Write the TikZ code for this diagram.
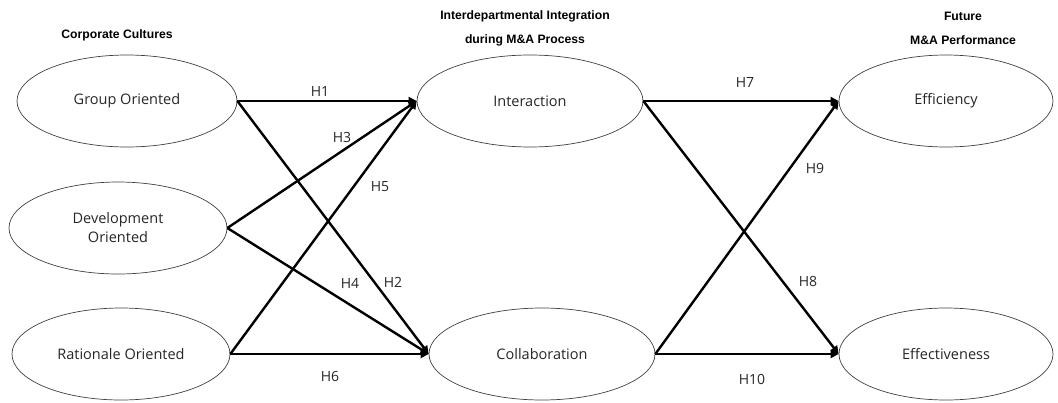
\documentclass[tikz,border=0pt]{standalone}
\usepackage{fontspec}
\setmainfont{Open Sans}
\newfontfamily\titlefont{Liberation Sans}
\usetikzlibrary{shapes.geometric,arrows.meta}
\tikzset{
  ell/.style={ellipse, draw=black!75, line width=0.7pt, inner sep=0pt,
    minimum width=220pt, minimum height=92pt, font=\fontsize{14.5}{19}\selectfont, align=center, text=black!85},
  arr/.style={line width=2.4pt, -{Triangle[length=8pt,width=8pt]}},
  lbl/.style={font=\fontsize{14}{15}\selectfont, text=black!85, inner sep=0pt},
  ttl/.style={font=\titlefont\bfseries\fontsize{12.2}{13}\selectfont, inner sep=0pt}
}
\begin{document}
\begin{tikzpicture}[x=1pt,y=-1pt]
\useasboundingbox (0,0) rectangle (1058,402);
\node[ell] (g) at (127,101) {Group Oriented};
\node[ell, minimum width=218pt] (d) at (118,228) {Development\\Oriented};
\node[ell, minimum width=218pt] (r) at (121,354) {Rationale Oriented};
\node[ell, minimum width=226pt] (i) at (530,101) {Interaction};
\node[ell, minimum width=226pt] (c) at (542,354) {Collaboration};
\node[ell, minimum width=214pt] (e1) at (946,101) {Efficiency};
\node[ell, minimum width=214pt] (e2) at (946,354) {Effectiveness};

\node[ttl] (t1) at (117,35) {Corporate Cultures};
\node[ttl] (t2) at (525,16) {Interdepartmental Integration};
\node[ttl] (t3) at (525,40) {during M\&A Process};
\node[ttl] (t4) at (963,16) {Future};
\node[ttl] (t5) at (963,40) {M\&A Performance};

\draw[arr] (g.east) -- (i.west);
\draw[arr] (g.east) -- (c.west);
\draw[arr] (d.east) -- (i.west);
\draw[arr] (d.east) -- (c.west);
\draw[arr] (r.east) -- (i.west);
\draw[arr] (r.east) -- (c.west);
\draw[arr] (i.east) -- (e1.west);
\draw[arr] (i.east) -- (e2.west);
\draw[arr] (c.east) -- (e1.west);
\draw[arr] (c.east) -- (e2.west);

\node[lbl] (h1) at (320,91) {H1};
\node[lbl] (h2) at (393,282) {H2};
\node[lbl] (h3) at (342,137) {H3};
\node[lbl] (h4) at (350,283) {H4};
\node[lbl] (h5) at (380,187) {H5};
\node[lbl] (h6) at (330,376) {H6};
\node[lbl] (h7) at (745,83) {H7};
\node[lbl] (h8) at (808,281) {H8};
\node[lbl] (h9) at (815,168) {H9};
\node[lbl] (h10) at (752,379) {H10};
\end{tikzpicture}
\end{document}
